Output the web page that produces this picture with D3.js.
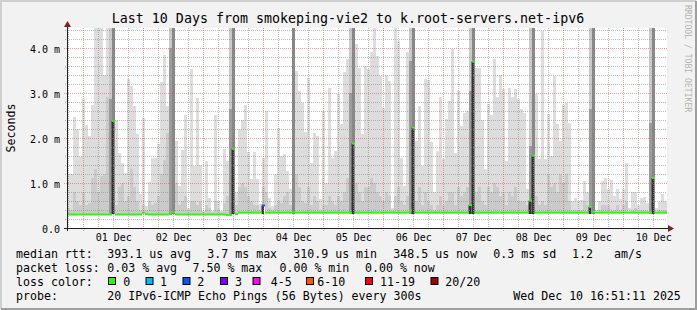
<!DOCTYPE html>
<html>
<head>
<meta charset="utf-8">
<script src="https://cdn.jsdelivr.net/npm/d3@7/dist/d3.min.js"></script>
<style>
body { margin: 0; background: #f2f2f2; }
svg text { font-family: "DejaVu Sans Mono", monospace; fill: #000; }
</style>
</head>
<body>
<div id="graph"></div>
<script>
/*global d3*/

var title = "Last 10 Days from smokeping-vie2 to k.root-servers.net-ipv6",
    yLabel = "Seconds",
    watermark = "RRDTOOL / TOBI OETIKER",
    start = new Date(2025, 10, 30, 17, 29),
    end = new Date(2025, 11, 10, 17, 29),
    stepMinutes = 72,
    yMax = 4.444,
    yTicks = [0, 1, 2, 3, 4],

    // light smoke top (max ping) per 72 min, ms ; 9 = off the chart
    smokeMax = [
        1.2, 1.2, 2.47, 2.2, 1.58, 2.86, 2.29, 2.04, 2.74, 4.6, 4.6, 4.6, 3.4, 4.6, 9, 9, 2.4, 1.66, 1.45, 1.23,
        3.3, 3.16, 2.7, 2.08, 0.75, 2.45, 0.49, 1.02, 1.56, 1.56, 1.86, 3.24, 3.84, 2.7, 9, 9, 1.93, 0.93, 1.73, 2.5,
        0.45, 3.53, 1.38, 2.89, 1.41, 0.38, 1.49, 0.67, 0.38, 2.5, 0.6, 0.38, 1.75, 1.49, 9, 9, 0.79, 2.19, 2.4, 2.74,
        1.69, 1.08, 1.69, 1.08, 0.53, 1.56, 2.6, 0.67, 0.49, 1.21, 2.23, 1.6, 1.65, 1.27, 0.86, 9, 3.48, 3.04, 2.77, 2.13,
        3.34, 1.45, 2.12, 2.04, 0.64, 2.6, 1.0, 3.12, 1.56, 1.71, 2.97, 2.3, 3.47, 3.75, 9, 9, 4.08, 3.56, 2.08, 3.61,
        3.53, 3.9, 4.6, 3.82, 3.38, 2.67, 3.39, 3.27, 0.45, 4.6, 4.16, 1.56, 0.93, 3.9, 9, 9, 1.93, 2.7, 1.38, 3.3,
        3.29, 1.9, 0.79, 1.71, 2.9, 1.53, 2.43, 2.82, 3.97, 1.67, 3.04, 2.27, 2.55, 2.6, 9, 9, 3.56, 3.56, 2.41, 1.3,
        2.75, 2.5, 3.75, 2.9, 3.41, 3.08, 1.49, 3.12, 2.9, 3.08, 2.86, 2.64, 2.56, 0.86, 9, 9, 2.97, 1.54, 4.38, 1.54,
        2.53, 1.6, 3.38, 2.3, 1.93, 2.73, 2.77, 2.34, 0.6, 0.67, 0.6, 0.63, 1.04, 0.8, 9, 9, 0.41, 0.6, 1.04, 1.11,
        0.87, 1.06, 0.7, 0.87, 0.64, 0.86, 1.45, 0.45, 0.79, 0.79, 0.5, 0.66, 0.68, 0.56, 9, 9, 0.45, 0.58, 0.75, 0.6
    ],
    // darker inner smoke top
    smokeMid = [
        0.45, 0.4, 0.8, 0.6, 0.5, 0.8, 0.5, 0.55, 1.1, 1.3, 0.8, 1.15, 1.2, 2.9, 9, 9, 0.5, 0.9, 1.0, 0.6,
        0.7, 1.3, 0.9, 0.6, 0.4, 0.5, 0.4, 0.6, 0.5, 0.55, 0.7, 1.2, 1.5, 2.1, 9, 9, 1.0, 0.5, 0.6, 0.7,
        0.4, 0.6, 0.6, 0.5, 0.6, 0.35, 0.5, 0.45, 0.35, 0.6, 0.4, 0.35, 0.55, 0.7, 9, 9, 0.5, 0.9, 1.0, 0.9,
        0.7, 0.6, 0.5, 0.5, 0.4, 0.9, 0.8, 0.45, 0.4, 0.5, 0.6, 0.55, 0.7, 0.8, 0.5, 0, 1.2, 0.9, 0.6, 0.55,
        0.9, 0.5, 0.7, 0.6, 0.4, 0.5, 0.5, 0.7, 0.6, 0.5, 0.7, 0.6, 0.8, 1.1, 9, 9, 1.0, 0.8, 0.6, 0.9,
        0.9, 1.1, 1.0, 0.8, 0.7, 0.6, 0.8, 0.7, 0.4, 0.7, 0.9, 0.6, 0.5, 0.7, 9, 9, 0.6, 0.9, 0.5, 0.8,
        0.6, 0.5, 0.4, 0.5, 0.7, 0.5, 0.6, 0.8, 0.8, 0.5, 0.9, 0.7, 0.8, 0.9, 9, 9, 0.8, 0.9, 0.6, 0.5,
        0.9, 0.8, 1.0, 0.9, 0.7, 0.8, 0.5, 0.8, 0.7, 0.9, 0.6, 0.6, 0.6, 0.5, 9, 9, 0.7, 0.5, 0.6, 0.5,
        1.2, 0.9, 1.0, 0.8, 1.2, 1.0, 1.2, 0.6, 0.4, 0.4, 0.4, 0.4, 0.6, 0.5, 9, 9, 0.35, 0.4, 0.5, 0.5,
        0.5, 0.4, 0.4, 0.5, 0.4, 0.5, 0.6, 0.35, 0.4, 0.45, 0.35, 0.4, 0.4, 0.38, 9, 9, 0.35, 0.4, 0.4, 0.4
    ],
    // median rtt, ms
    medians = [
        0.30, 0.30, 0.30, 0.30, 0.30, 0.30, 0.30, 0.30, 0.30, 0.30, 0.30, 0.30, 0.30, 0.30, 0.30, 2.38, 0.30, 0.30, 0.30, 0.30,
        0.30, 0.30, 0.30, 0.30, 0.30, 0.34, 0.31, 0.30, 0.30, 0.30, 0.30, 0.30, 0.30, 0.30, 0.31, 0.35, 0.30, 0.30, 0.30, 0.30,
        0.30, 0.30, 0.30, 0.30, 0.30, 0.30, 0.30, 0.30, 0.30, 0.30, 0.30, 0.30, 0.30, 0.29, 0.29, 1.76, 0.31, 0.34, 0.34, 0.34,
        0.34, 0.34, 0.34, 0.34, 0.34, 0.50, 0.34, 0.34, 0.34, 0.34, 0.34, 0.34, 0.34, 0.34, 0.34, 0.35, 0.34, 0.34, 0.34, 0.34,
        0.34, 0.34, 0.34, 0.34, 0.34, 0.34, 0.34, 0.34, 0.34, 0.34, 0.34, 0.34, 0.34, 0.34, 0.34, 1.88, 0.34, 0.34, 0.34, 0.34,
        0.34, 0.34, 0.34, 0.34, 0.34, 0.34, 0.34, 0.34, 0.34, 0.34, 0.34, 0.34, 0.34, 0.34, 0.39, 2.23, 0.34, 0.34, 0.34, 0.34,
        0.34, 0.34, 0.34, 0.34, 0.34, 0.34, 0.34, 0.34, 0.34, 0.34, 0.34, 0.34, 0.34, 0.34, 0.51, 3.70, 0.34, 0.34, 0.34, 0.34,
        0.34, 0.34, 0.34, 0.34, 0.34, 0.34, 0.34, 0.34, 0.34, 0.34, 0.34, 0.34, 0.34, 0.34, 0.61, 1.61, 0.34, 0.34, 0.34, 0.34,
        0.34, 0.34, 0.34, 0.34, 0.34, 0.34, 0.34, 0.34, 0.34, 0.34, 0.34, 0.34, 0.34, 0.34, 0.47, 0.36, 0.34, 0.34, 0.34, 0.34,
        0.34, 0.34, 0.34, 0.34, 0.34, 0.34, 0.34, 0.34, 0.34, 0.34, 0.34, 0.34, 0.34, 0.34, 0.34, 1.11, 0.34, 0.34, 0.34, 0.34
    ],
    // daily burst: column index of dense part, and dark level of column before it
    spikeCols = [15, 35, 55, 75, 95, 115, 135, 155, 175, 195],
    spikeShade = [2.86, 4.0, 2.64, 0, 3.0, 3.7, 3.05, 1.82, 2.64, 2.34],
    lossCols = [65],
    lossCounts = [2],

    lossLabels = ["0", "1", "2", "3", "4-5", "6-10", "11-19", "20/20"],
    lossFrom = [0, 1, 2, 3, 4, 6, 11, 20],
    lossColors = ["#26ff00", "#00b8ff", "#0059ff", "#7e00ff", "#ff00ff", "#ff5500", "#ff0000", "#a00000"],

    rttStats = ["393.1 us avg", "3.7 ms max", "310.9 us min", "348.5 us now", "0.3 ms sd", "1.2", "am/s"],
    lossStats = ["0.03 % avg", "7.50 % max", "0.00 % min", "0.00 % now"],
    probeText = "20 IPv6-ICMP Echo Pings (56 Bytes) every 300s",
    stamp = "Wed Dec 10 16:51:11 2025";

// layout
var W = 697, H = 310,
    plot = {left: 67, top: 28, width: 600, height: 200},
    rowY = [258, 272, 285.5, 299.5],
    rttX = [107.3, 207.3, 293.3, 393.3, 493.3, 572, 614],
    lossX = [107.3, 192.5, 279.5, 365],
    boxX = [108, 145.5, 182.5, 220, 252.5, 306, 365, 430.5],
    boxLabelX = [123.3, 160, 197.3, 235, 270.7, 317.3, 380, 445.3];

var x = d3.scaleTime()
        .domain([start, end])
        .range([plot.left, plot.left + plot.width]),
    y = d3.scaleLinear()
        .domain([0, yMax])
        .range([plot.top + plot.height, plot.top]),
    px = function (v) { return Math.round(v) + 0.5; };

var svg = d3.select("#graph")
    .append("svg")
    .attr("width", W)
    .attr("height", H)
    .style("display", "block");

svg.append("rect").attr("width", W).attr("height", H).attr("fill", "#f2f2f2");
// 3d frame
svg.append("path").attr("d", "M0,1H" + (W - 1) + "M1,0V" + (H - 1))
    .attr("stroke", "#cfcfcf").attr("stroke-width", 2).attr("fill", "none");
svg.append("path").attr("d", "M1," + (H - 1) + "H" + W + "M" + (W - 1) + ",1V" + H)
    .attr("stroke", "#9e9e9e").attr("stroke-width", 2).attr("fill", "none");

svg.append("rect")
    .attr("x", plot.left).attr("y", plot.top)
    .attr("width", plot.width).attr("height", plot.height)
    .attr("fill", "#ffffff");

svg.append("clipPath").attr("id", "clip")
    .append("rect")
    .attr("x", plot.left).attr("y", plot.top)
    .attr("width", plot.width).attr("height", plot.height);

var cols = smokeMax.map(function (d, i) {
    var loss = lossCols.indexOf(i) < 0 ? 0 : lossCounts[lossCols.indexOf(i)];
    return {
        i: i,
        t0: d3.timeMinute.offset(start, i * stepMinutes),
        t1: d3.timeMinute.offset(start, (i + 1) * stepMinutes),
        max: d,
        mid: smokeMid[i],
        med: medians[i],
        loss: loss
    };
});

var area = svg.append("g").attr("clip-path", "url(#clip)");

function bars(data, top, bottom, color) {
    area.append("g").selectAll("rect")
        .data(data)
        .enter().append("rect")
        .attr("x", function (d) { return x(d.t0); })
        .attr("width", function (d) { return x(d.t1) - x(d.t0); })
        .attr("y", function (d) { return y(top(d)); })
        .attr("height", function (d) { return Math.max(0, y(bottom(d)) - y(top(d))); })
        .attr("fill", color)
        .attr("shape-rendering", "crispEdges");
}

bars(cols, function (d) { return d.max; }, function (d) { return d.med; }, "#dddddd");
bars(cols.filter(function (d) { return d.mid > 0; }),
    function (d) { return Math.min(d.mid, d.max); }, function (d) { return d.med; }, "#cacaca");

// daily bursts
var spikes = spikeCols.map(function (c, k) { return {right: cols[c], left: cols[c - 1], shade: spikeShade[k]}; });
bars(spikes.filter(function (s) { return s.shade > 0; }).map(function (s) { return s.left; }),
    function (d) { return spikeShade[spikeCols.indexOf(d.i + 1)]; }, function (d) { return 0.3; }, "#9c9c9c");
bars(spikes.map(function (s) { return s.right; }),
    function (d) { return 9; }, function (d) { return 0.3; }, "#878787");

// grid
var grid = svg.append("g").attr("shape-rendering", "crispEdges").attr("fill", "none");
var dayLines = d3.timeDay.range(d3.timeDay.ceil(start), end),
    hourLines = d3.timeHour.every(6).range(start, end).filter(function (d) { return d.getHours() !== 0; }),
    yMinor = d3.range(1, 23).filter(function (k) { return k % 5 !== 0; }).map(function (k) { return k / 5; }),
    yMajor = yTicks.filter(function (v) { return v > 0; });

grid.selectAll(".vminor")
    .data(hourLines)
    .enter().append("line")
    .attr("x1", function (d) { return px(x(d)); }).attr("x2", function (d) { return px(x(d)); })
    .attr("y1", plot.top).attr("y2", plot.top + plot.height + 2)
    .attr("stroke", "rgba(143,143,143,0.6)").attr("stroke-dasharray", "1,1");
grid.selectAll(".hminor")
    .data(yMinor)
    .enter().append("line")
    .attr("y1", function (d) { return px(y(d)); }).attr("y2", function (d) { return px(y(d)); })
    .attr("x1", plot.left - 2).attr("x2", plot.left + plot.width)
    .attr("stroke", "rgba(143,143,143,0.6)").attr("stroke-dasharray", "1,1");
grid.selectAll(".vmajor")
    .data(dayLines)
    .enter().append("line")
    .attr("x1", function (d) { return px(x(d)); }).attr("x2", function (d) { return px(x(d)); })
    .attr("y1", plot.top).attr("y2", plot.top + plot.height + 3)
    .attr("stroke", "rgba(222,80,80,0.55)").attr("stroke-dasharray", "1,1");
grid.selectAll(".hmajor")
    .data(yMajor)
    .enter().append("line")
    .attr("y1", function (d) { return px(y(d)); }).attr("y2", function (d) { return px(y(d)); })
    .attr("x1", plot.left - 3).attr("x2", plot.left + plot.width)
    .attr("stroke", "rgba(222,80,80,0.55)").attr("stroke-dasharray", "1,1");

// dense core under a raised median
area.append("g").selectAll("rect")
    .data(cols.filter(function (d) { return d.med > 0.4; }))
    .enter().append("rect")
    .attr("x", function (d) { return x(d.t0) - 0.5; })
    .attr("width", 2.5)
    .attr("y", function (d) { return y(d.med); })
    .attr("height", function (d) { return y(0.31) - y(d.med); })
    .attr("fill", "#333333");

// median line coloured by loss
function lossColor(n) {
    var k = 0;
    lossFrom.forEach(function (f, j) { if (n >= f) { k = j; } });
    return lossColors[k];
}
area.append("g").selectAll("rect")
    .data(cols)
    .enter().append("rect")
    .attr("x", function (d) { return x(d.t0); })
    .attr("width", function (d) { return x(d.t1) - x(d.t0); })
    .attr("y", function (d) { return y(d.med) - 1; })
    .attr("height", 2)
    .attr("fill", function (d) { return lossColor(d.loss); });

// axes
var noons = dayLines.map(function (d) { return d3.timeHour.offset(d, 12); })
    .filter(function (d) { return d < end; });
var xAxis = d3.axisBottom(x)
    .tickValues(noons)
    .tickFormat(d3.timeFormat("%d %b"))
    .tickSize(0)
    .tickPadding(6);
var gx = svg.append("g")
    .attr("transform", "translate(0," + (plot.top + plot.height) + ")")
    .call(xAxis);
gx.select(".domain").remove();
gx.selectAll("text").attr("font-size", "10px").attr("font-family", "DejaVu Sans Mono").attr("fill", "#000");

var yAxis = d3.axisLeft(y)
    .tickValues(yTicks)
    .tickFormat(function (d) { return d === 0 ? "0.0" : d3.format(".1f")(d) + " m"; })
    .tickSize(0)
    .tickPadding(7);
var gy = svg.append("g")
    .attr("transform", "translate(" + plot.left + ",0)")
    .call(yAxis);
gy.select(".domain").remove();
gy.selectAll("text").attr("font-size", "10px").attr("font-family", "DejaVu Sans Mono")
    .attr("fill", "#000").attr("dy", "0.43em");

svg.append("line")
    .attr("x1", plot.left - 3).attr("x2", plot.left + plot.width + 1)
    .attr("y1", plot.top + plot.height + 0.5).attr("y2", plot.top + plot.height + 0.5)
    .attr("stroke", "#1f1f1f");
svg.append("line")
    .attr("x1", plot.left + 0.5).attr("x2", plot.left + 0.5)
    .attr("y1", plot.top + plot.height + 3).attr("y2", plot.top - 2)
    .attr("stroke", "#1f1f1f");
svg.append("path")
    .attr("d", "M" + (plot.left + plot.width + 7) + "," + (plot.top + plot.height + 0.5) +
        "l-6,-3.5v7z")
    .attr("fill", "#7f1f1f");
svg.append("path")
    .attr("d", "M" + (plot.left + 0.5) + "," + (plot.top - 7) + "l-3.5,6h7z")
    .attr("fill", "#7f1f1f");

// titles
svg.append("text")
    .attr("x", 348).attr("y", 23)
    .attr("text-anchor", "middle")
    .attr("font-size", "13.3px")
    .text(title);
svg.append("text")
    .attr("transform", "translate(15," + (plot.top + plot.height / 2) + ") rotate(-90)")
    .attr("text-anchor", "middle")
    .attr("font-size", "11.6px")
    .text(yLabel);
svg.append("text")
    .attr("transform", "translate(685,5) rotate(90)")
    .attr("font-size", "8.1px")
    .style("fill", "#b4b4b4")
    .text(watermark);

// legend
var legend = svg.append("g").attr("font-size", "11.6px");
legend.selectAll(".head")
    .data(["median rtt:", "packet loss:", "loss color:", "probe:"])
    .enter().append("text")
    .attr("x", 16)
    .attr("y", function (d, i) { return rowY[i]; })
    .text(function (d) { return d; });
legend.selectAll(".rtt")
    .data(rttStats)
    .enter().append("text")
    .attr("x", function (d, i) { return rttX[i]; })
    .attr("y", rowY[0])
    .text(function (d) { return d; });
legend.selectAll(".loss")
    .data(lossStats)
    .enter().append("text")
    .attr("x", function (d, i) { return lossX[i]; })
    .attr("y", rowY[1])
    .text(function (d) { return d; });
legend.selectAll(".box")
    .data(lossColors)
    .enter().append("rect")
    .attr("x", function (d, i) { return boxX[i] + 0.5; })
    .attr("y", rowY[2] - 8)
    .attr("width", 7).attr("height", 7)
    .attr("fill", function (d) { return d; })
    .attr("stroke", "#000");
legend.selectAll(".boxlabel")
    .data(lossLabels)
    .enter().append("text")
    .attr("x", function (d, i) { return boxLabelX[i]; })
    .attr("y", rowY[2])
    .text(function (d) { return d; });
legend.append("text").attr("x", 107.3).attr("y", rowY[3]).text(probeText);
legend.append("text").attr("x", 513.3).attr("y", rowY[3]).text(stamp);
</script>
</body>
</html>
